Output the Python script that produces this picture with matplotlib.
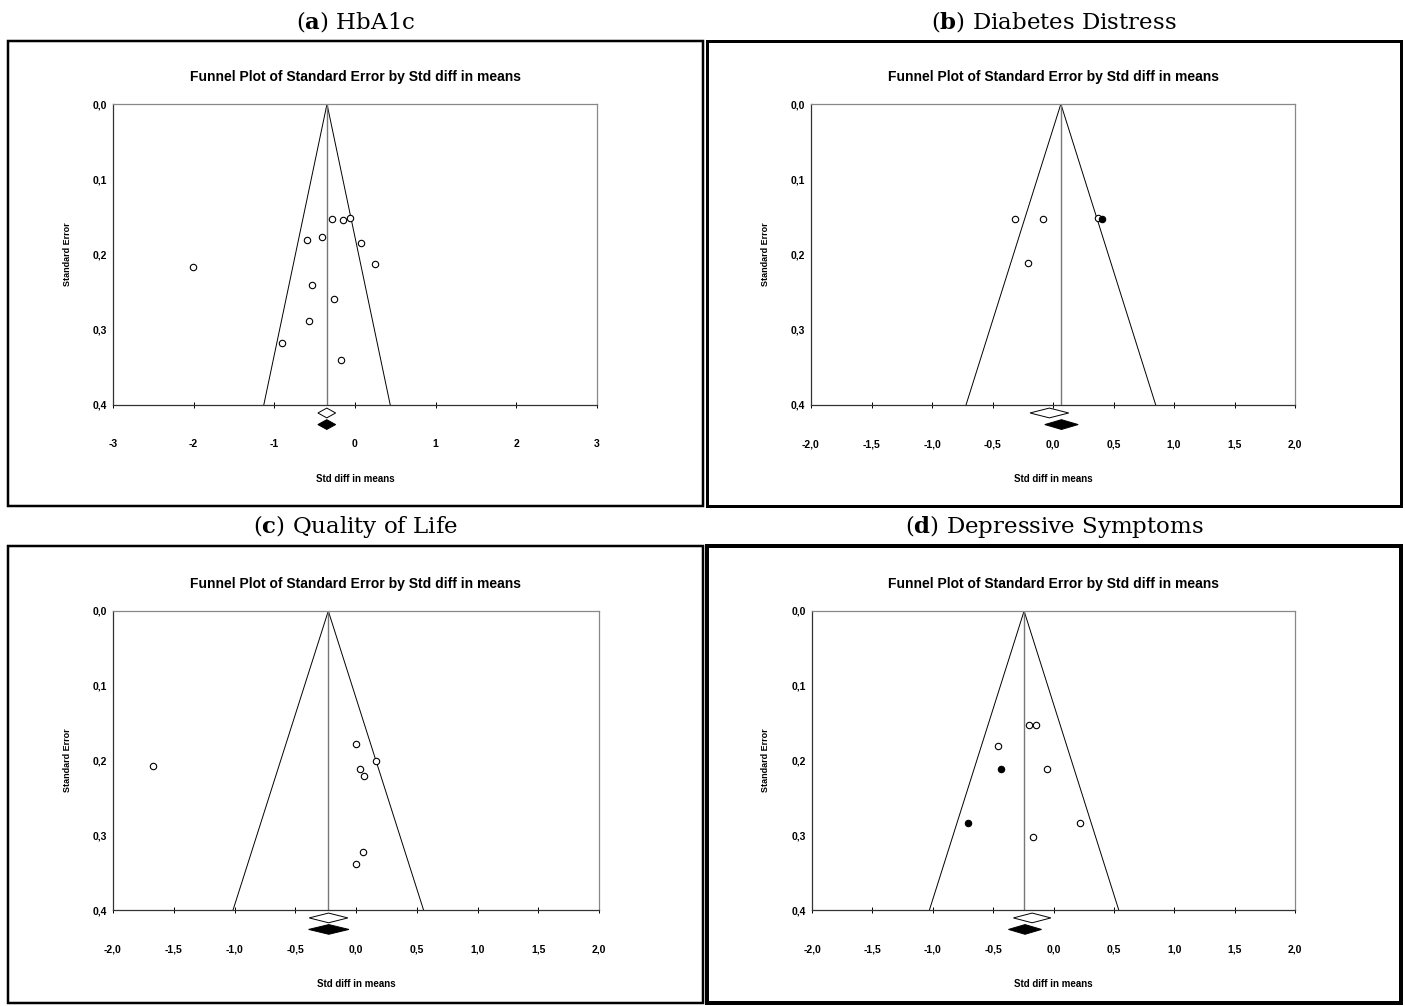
import matplotlib.pyplot as plt
from matplotlib.patches import Polygon, Rectangle
from matplotlib.ticker import FuncFormatter

plt.rcParams['mathtext.fontset'] = 'custom'
plt.rcParams['mathtext.rm'] = 'DejaVu Serif'
plt.rcParams['mathtext.bf'] = 'DejaVu Serif:bold'

NARROW = ['Liberation Sans Narrow', 'Liberation Sans', 'DejaVu Sans']
SERIF = ['DejaVu Serif']

# (a) HbA1c
a_smd = [-2.01, -0.285, -0.149, -0.064, -0.59, -0.405, 0.073, 0.254, -0.533, -0.259, -0.573, -0.909, -0.175]
a_se = [0.217, 0.153, 0.154, 0.151, 0.181, 0.177, 0.185, 0.212, 0.240, 0.259, 0.288, 0.317, 0.340]
a_imputed = [False] * 13
a_center = -0.347
a_diamonds = [(-0.35, 0.11), (-0.35, 0.11)]  # observed, adjusted

# (b) Diabetes Distress
b_smd = [-0.314, -0.083, -0.204, 0.376, 0.408]
b_se = [0.1525, 0.1525, 0.211, 0.151, 0.1525]
b_imputed = [False, False, False, False, True]
b_center = 0.065
b_diamonds = [(-0.03, 0.16), (0.07, 0.138)]

# (c) Quality of Life
c_smd = [-1.671, 0.0, 0.163, 0.037, 0.063, 0.054, 0.0]
c_se = [0.207, 0.178, 0.200, 0.211, 0.221, 0.323, 0.339]
c_imputed = [False] * 7
c_center = -0.228
c_diamonds = [(-0.226, 0.159), (-0.224, 0.166)]

# (d) Depressive Symptoms
d_smd = [-0.205, -0.149, -0.456, -0.435, -0.055, -0.704, 0.217, -0.173]
d_se = [0.152, 0.153, 0.180, 0.211, 0.211, 0.284, 0.284, 0.302]
d_imputed = [False, False, False, True, False, True, False, False]
d_center = -0.2435
d_diamonds = [(-0.177, 0.155), (-0.236, 0.137)]

W, H = 1405, 1006
fig = plt.figure(figsize=(W / 100, H / 100), dpi=100)


def fx(px):
    return px / W


def fy(py):
    return 1 - py / H


panels = [
    ('a', 'HbA1c', a_smd, a_se, a_imputed, a_center, a_diamonds, [-3, -2, -1, 0, 1, 2, 3],
     (113, 597, 104, 405), (8, 703, 41, 506), 2.5),
    ('b', 'Diabetes Distress', b_smd, b_se, b_imputed, b_center, b_diamonds,
     [-2.0, -1.5, -1.0, -0.5, 0.0, 0.5, 1.0, 1.5, 2.0],
     (811, 1295, 104, 405), (707, 1401, 41, 506), 3),
    ('c', 'Quality of Life', c_smd, c_se, c_imputed, c_center, c_diamonds,
     [-2.0, -1.5, -1.0, -0.5, 0.0, 0.5, 1.0, 1.5, 2.0],
     (113, 599, 611, 910), (8, 703, 546, 1003), 2.5),
    ('d', 'Depressive Symptoms', d_smd, d_se, d_imputed, d_center, d_diamonds,
     [-2.0, -1.5, -1.0, -0.5, 0.0, 0.5, 1.0, 1.5, 2.0],
     (812, 1295, 611, 910), (707, 1401, 546, 1003), 4),
]

for letter, name, smd, se, imputed, center, diamonds, xt, box, frame, lw in panels:
    x0, x1, y0, y1 = box
    ax = fig.add_axes([fx(x0), fy(y1), fx(x1) - fx(x0), fy(y0) - fy(y1)])
    ax.set_xlim(xt[0], xt[-1])
    ax.set_ylim(0.4, 0.0)

    # funnel
    ax.plot([center - 1.96 * 0.4, center, center + 1.96 * 0.4], [0.4, 0.0, 0.4],
            color='black', lw=0.7)
    ax.plot([center, center], [0.0, 0.4], color='#777777', lw=1.0)

    for x, y, imp in zip(smd, se, imputed):
        ax.plot(x, y, 'o', ms=4.6, mew=0.8, mec='black',
                mfc='black' if imp else 'white', zorder=3)

    # summary diamonds below the axis
    for (est, half), yc, fill in zip(diamonds, [0.4106, 0.426], ['white', 'black']):
        ax.add_patch(Polygon([[est - half, yc], [est, yc - 0.0065], [est + half, yc], [est, yc + 0.0065]],
                             closed=True, facecolor=fill, edgecolor='black', lw=0.7, clip_on=False))

    ax.set_xticks(xt)
    ax.set_yticks([0.0, 0.1, 0.2, 0.3, 0.4])
    if letter == 'a':
        ax.xaxis.set_major_formatter(FuncFormatter(lambda v, p: f'{v:.0f}'))
    else:
        ax.xaxis.set_major_formatter(FuncFormatter(lambda v, p: f'{v:.1f}'.replace('.', ',')))
    ax.yaxis.set_major_formatter(FuncFormatter(lambda v, p: f'{v:.1f}'.replace('.', ',')))
    ax.tick_params(axis='x', direction='inout', length=5, width=0.7, pad=22, labelsize=7.5)
    ax.tick_params(axis='y', direction='in', length=0, pad=4, labelsize=7.5)
    for lab in ax.get_xticklabels() + ax.get_yticklabels():
        lab.set_family(NARROW)
        lab.set_fontweight('bold')
    for side in ['left', 'bottom']:
        ax.spines[side].set_color('#333333')
        ax.spines[side].set_linewidth(0.9)
    for side in ['top', 'right']:
        ax.spines[side].set_color('#888888')
        ax.spines[side].set_linewidth(0.9)

    ax.text(0.5, 1 + 27 / (y1 - y0), 'Funnel Plot of Standard Error by Std diff in means',
            transform=ax.transAxes, ha='center', va='center', fontsize=10,
            fontweight='bold', family=NARROW)
    ax.text(0.5, -74 / (y1 - y0), 'Std diff in means', transform=ax.transAxes,
            ha='center', va='center', fontsize=7, fontweight='bold', family=NARROW)
    ax.text(-46 / (x1 - x0), 0.5, 'Standard Error', transform=ax.transAxes, rotation=90,
            ha='center', va='center', fontsize=6.5, fontweight='bold', family=NARROW)

    # frame around the panel
    l, r, t, b = frame
    fig.add_artist(Rectangle((fx(l), fy(b)), fx(r) - fx(l), fy(t) - fy(b), transform=fig.transFigure,
                             fill=False, edgecolor='black', lw=lw * 0.72))
    fig.text(fx((l + r) / 2), fy(t - 20), rf'($\mathbf{{{letter}}}$) {name}', ha='center', va='center',
             fontsize=16.5, family=SERIF)

fig.savefig('out.png', dpi=100, facecolor='white')
